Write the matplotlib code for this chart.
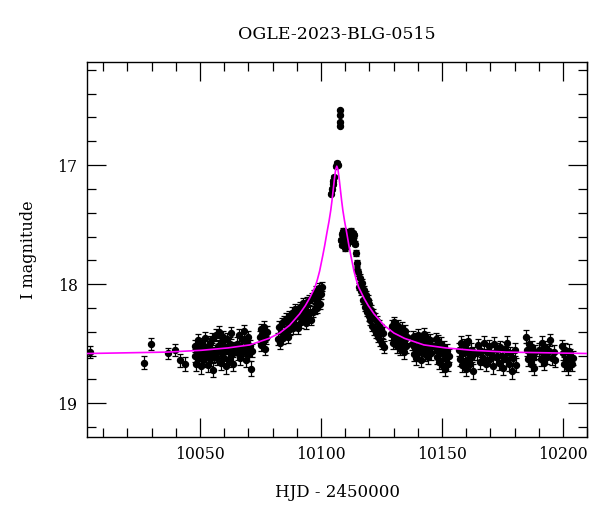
import matplotlib
matplotlib.use("Agg")
import matplotlib.pyplot as plt
from matplotlib.ticker import MultipleLocator

# ---- data: (HJD-2450000, I mag, error) ----
early = [(10004.6, 18.57, 0.050), (10026.9, 18.66, 0.056), (10029.6, 18.50, 0.052),
         (10036.9, 18.58, 0.045), (10039.8, 18.555, 0.050), (10041.8, 18.64, 0.055),
         (10043.8, 18.67, 0.055)]

base_a = [(10047.9, 18.60, 0.055), (10048.1, 18.52, 0.052), (10048.3, 18.67, 0.060),
          (10048.9, 18.57, 0.054), (10049.2, 18.47, 0.050), (10049.5, 18.62, 0.058),
          (10050.0, 18.55, 0.053), (10050.3, 18.69, 0.062), (10050.7, 18.59, 0.055),
          (10051.0, 18.50, 0.051), (10051.2, 18.64, 0.059), (10051.8, 18.56, 0.054),
          (10052.1, 18.45, 0.050), (10052.4, 18.61, 0.057), (10052.9, 18.53, 0.053),
          (10053.2, 18.68, 0.061), (10053.6, 18.58, 0.055), (10053.9, 18.49, 0.051),
          (10054.3, 18.63, 0.058), (10054.8, 18.55, 0.054), (10055.1, 18.46, 0.050),
          (10055.4, 18.72, 0.062), (10055.8, 18.60, 0.056)]

base_b = [(10056.4, 18.58, 0.055), (10056.7, 18.43, 0.051), (10057.0, 18.62, 0.058),
          (10057.4, 18.52, 0.053), (10057.8, 18.40, 0.050), (10058.1, 18.55, 0.054),
          (10058.5, 18.66, 0.060), (10058.9, 18.48, 0.052), (10059.2, 18.58, 0.056),
          (10059.6, 18.44, 0.051), (10060.0, 18.62, 0.058), (10060.3, 18.53, 0.054),
          (10060.7, 18.69, 0.062), (10061.1, 18.46, 0.052), (10061.5, 18.56, 0.055),
          (10061.9, 18.64, 0.059), (10062.2, 18.50, 0.053), (10062.6, 18.41, 0.050),
          (10063.0, 18.59, 0.056), (10063.4, 18.67, 0.060), (10063.8, 18.54, 0.054)]

base_c = [(10065.3, 18.50, 0.053), (10065.7, 18.58, 0.056), (10066.0, 18.43, 0.051),
          (10066.4, 18.62, 0.058), (10066.8, 18.53, 0.054), (10067.2, 18.46, 0.052),
          (10067.6, 18.57, 0.055), (10068.0, 18.39, 0.050), (10068.4, 18.55, 0.054),
          (10068.8, 18.64, 0.059), (10069.3, 18.49, 0.053), (10069.7, 18.44, 0.051),
          (10070.1, 18.59, 0.056), (10070.5, 18.52, 0.054), (10070.9, 18.71, 0.062),
          (10071.3, 18.56, 0.055)]

base_d = [(10074.7, 18.44, 0.050), (10075.0, 18.38, 0.048), (10075.3, 18.51, 0.054),
          (10075.7, 18.42, 0.050), (10076.1, 18.47, 0.052), (10076.5, 18.36, 0.048),
          (10076.9, 18.54, 0.055), (10077.3, 18.45, 0.051), (10077.7, 18.40, 0.050)]

rise = [(10082.2, 18.46, 0.050), (10082.5, 18.36, 0.048), (10082.9, 18.49, 0.051),
        (10083.3, 18.40, 0.049), (10083.7, 18.33, 0.047), (10084.1, 18.45, 0.050),
        (10084.5, 18.31, 0.047), (10084.9, 18.41, 0.049), (10085.3, 18.29, 0.046),
        (10085.7, 18.40, 0.048), (10086.1, 18.32, 0.047), (10086.5, 18.44, 0.050),
        (10086.9, 18.27, 0.046), (10087.3, 18.38, 0.048), (10087.7, 18.31, 0.047),
        (10088.1, 18.24, 0.045), (10088.5, 18.37, 0.048), (10088.9, 18.28, 0.046),
        (10089.3, 18.21, 0.045), (10089.7, 18.34, 0.047), (10090.1, 18.25, 0.045),
        (10090.5, 18.37, 0.048), (10090.9, 18.27, 0.046), (10091.3, 18.19, 0.044),
        (10091.7, 18.32, 0.046), (10092.1, 18.24, 0.045), (10092.5, 18.16, 0.043),
        (10092.9, 18.29, 0.045), (10093.3, 18.21, 0.044), (10093.7, 18.33, 0.046),
        (10094.1, 18.15, 0.043), (10094.5, 18.26, 0.044), (10094.9, 18.13, 0.042),
        (10095.3, 18.23, 0.044), (10095.7, 18.30, 0.045), (10096.1, 18.12, 0.042),
        (10096.5, 18.23, 0.043), (10096.9, 18.09, 0.041), (10097.3, 18.21, 0.043),
        (10097.7, 18.13, 0.042), (10098.1, 18.06, 0.041), (10098.5, 18.20, 0.043),
        (10098.9, 18.10, 0.041), (10099.3, 18.03, 0.040), (10099.7, 18.17, 0.042),
        (10100.1, 18.08, 0.041), (10100.5, 18.02, 0.040)]

peak = [(10104.1, 17.24, 0.014), (10104.4, 17.20, 0.014), (10104.8, 17.16, 0.014),
        (10105.1, 17.13, 0.013), (10105.5, 17.10, 0.013), (10106.2, 17.01, 0.012),
        (10106.5, 16.98, 0.012), (10106.8, 17.00, 0.012), (10107.8, 16.54, 0.010),
        (10107.8, 16.58, 0.010), (10107.9, 16.64, 0.010), (10107.9, 16.67, 0.010)]

shoulder = [(10108.3, 17.63, 0.020), (10108.5, 17.58, 0.019), (10108.7, 17.67, 0.021),
            (10108.9, 17.61, 0.020), (10109.1, 17.55, 0.019), (10109.3, 17.65, 0.020),
            (10109.5, 17.59, 0.019), (10109.8, 17.70, 0.021), (10110.0, 17.62, 0.020),
            (10110.3, 17.57, 0.019), (10110.6, 17.66, 0.020), (10110.9, 17.60, 0.019),
            (10111.2, 17.56, 0.019), (10111.5, 17.64, 0.020), (10111.8, 17.58, 0.019),
            (10112.1, 17.62, 0.020), (10112.4, 17.55, 0.019), (10112.7, 17.60, 0.020),
            (10113.0, 17.57, 0.019), (10113.3, 17.63, 0.020), (10113.6, 17.59, 0.020),
            (10113.9, 17.66, 0.021)]

decline = [(10114.5, 17.74, 0.024), (10114.7, 17.82, 0.025), (10114.9, 17.88, 0.026),
           (10115.4, 17.90, 0.030), (10115.8, 18.02, 0.031), (10116.2, 17.95, 0.032),
           (10116.6, 18.06, 0.033), (10117.0, 17.99, 0.034), (10117.4, 18.13, 0.035),
           (10117.6, 18.05, 0.036), (10118.0, 18.19, 0.037), (10118.4, 18.09, 0.036),
           (10118.8, 18.23, 0.039), (10119.2, 18.13, 0.038), (10119.6, 18.27, 0.040),
           (10120.0, 18.17, 0.041), (10120.4, 18.30, 0.041), (10120.8, 18.22, 0.042),
           (10121.2, 18.35, 0.043), (10121.6, 18.25, 0.043), (10122.0, 18.38, 0.044),
           (10122.4, 18.29, 0.044), (10122.8, 18.41, 0.045), (10123.2, 18.31, 0.045),
           (10123.6, 18.44, 0.046), (10124.0, 18.35, 0.046), (10124.4, 18.47, 0.047),
           (10124.8, 18.38, 0.047), (10125.2, 18.50, 0.048), (10125.6, 18.41, 0.048),
           (10126.0, 18.53, 0.050)]

tail_a = [(10129.1, 18.42, 0.050), (10129.4, 18.35, 0.048), (10129.7, 18.49, 0.052),
          (10130.0, 18.40, 0.050), (10130.3, 18.32, 0.047), (10130.6, 18.46, 0.051),
          (10130.9, 18.38, 0.049), (10131.2, 18.52, 0.054), (10131.5, 18.43, 0.051),
          (10131.8, 18.35, 0.048), (10132.1, 18.48, 0.052), (10132.4, 18.40, 0.050),
          (10132.7, 18.54, 0.055), (10133.0, 18.44, 0.051), (10133.3, 18.37, 0.049),
          (10133.6, 18.50, 0.053), (10133.9, 18.42, 0.050), (10134.2, 18.57, 0.056),
          (10134.5, 18.46, 0.052), (10134.8, 18.39, 0.050), (10135.1, 18.52, 0.054),
          (10135.4, 18.44, 0.051)]

tail_b = [(10137.4, 18.50, 0.053), (10137.8, 18.44, 0.051), (10138.2, 18.59, 0.057),
          (10138.6, 18.52, 0.054), (10139.0, 18.46, 0.052), (10139.4, 18.62, 0.058),
          (10139.8, 18.54, 0.055), (10140.2, 18.43, 0.051), (10140.6, 18.57, 0.056),
          (10141.0, 18.50, 0.053), (10141.4, 18.64, 0.059), (10141.8, 18.47, 0.052),
          (10142.2, 18.55, 0.055), (10142.6, 18.42, 0.050), (10143.0, 18.59, 0.057),
          (10143.4, 18.51, 0.054), (10143.8, 18.45, 0.052), (10144.2, 18.61, 0.058),
          (10144.6, 18.53, 0.054), (10145.0, 18.47, 0.052), (10145.4, 18.58, 0.056),
          (10145.8, 18.52, 0.054)]

tail_c = [(10146.9, 18.52, 0.054), (10147.3, 18.46, 0.052), (10147.7, 18.61, 0.058),
          (10148.1, 18.55, 0.055), (10148.5, 18.48, 0.053), (10148.9, 18.65, 0.060),
          (10149.3, 18.57, 0.056), (10149.7, 18.50, 0.054), (10150.1, 18.68, 0.061),
          (10150.5, 18.59, 0.057), (10150.9, 18.53, 0.054), (10151.3, 18.71, 0.062),
          (10151.7, 18.62, 0.058), (10152.1, 18.56, 0.055), (10152.5, 18.67, 0.060),
          (10152.9, 18.60, 0.057)]

tail_d = [(10157.1, 18.55, 0.055), (10157.5, 18.63, 0.058), (10157.9, 18.49, 0.053),
          (10158.3, 18.68, 0.061), (10158.7, 18.58, 0.056), (10159.1, 18.51, 0.054),
          (10159.5, 18.65, 0.059), (10159.9, 18.71, 0.062), (10160.3, 18.57, 0.056),
          (10160.7, 18.48, 0.053), (10161.1, 18.62, 0.058), (10161.5, 18.67, 0.060),
          (10161.9, 18.55, 0.055), (10162.3, 18.60, 0.057), (10162.7, 18.73, 0.063),
          (10163.1, 18.58, 0.056)]

tail_e = [(10164.4, 18.58, 0.056), (10165.0, 18.51, 0.054), (10165.6, 18.65, 0.059),
          (10166.2, 18.56, 0.055), (10166.8, 18.62, 0.058), (10167.4, 18.49, 0.053),
          (10168.0, 18.67, 0.060), (10168.6, 18.57, 0.056), (10169.2, 18.52, 0.054),
          (10169.8, 18.63, 0.058), (10170.4, 18.58, 0.056), (10171.0, 18.69, 0.061),
          (10171.6, 18.50, 0.054), (10172.2, 18.61, 0.057), (10172.8, 18.55, 0.055),
          (10173.4, 18.66, 0.060), (10174.0, 18.53, 0.055), (10174.6, 18.60, 0.057),
          (10175.2, 18.70, 0.062), (10175.8, 18.54, 0.055), (10176.4, 18.63, 0.058),
          (10177.0, 18.49, 0.053), (10177.6, 18.67, 0.060), (10178.2, 18.58, 0.056),
          (10178.8, 18.73, 0.063), (10179.4, 18.62, 0.058), (10180.0, 18.55, 0.055),
          (10180.6, 18.68, 0.061)]

tail_f = [(10184.8, 18.44, 0.052), (10185.2, 18.55, 0.055), (10185.6, 18.63, 0.058),
          (10186.0, 18.50, 0.053), (10186.4, 18.58, 0.056), (10186.8, 18.67, 0.060),
          (10187.2, 18.53, 0.054), (10187.6, 18.61, 0.057), (10188.0, 18.70, 0.062),
          (10188.4, 18.57, 0.056)]

tail_g = [(10190.2, 18.55, 0.055), (10190.7, 18.63, 0.058), (10191.2, 18.49, 0.053),
          (10191.7, 18.58, 0.056), (10192.2, 18.66, 0.060), (10192.7, 18.53, 0.054),
          (10193.4, 18.61, 0.057), (10194.0, 18.56, 0.055), (10194.8, 18.47, 0.052),
          (10195.5, 18.62, 0.058), (10196.2, 18.57, 0.056), (10196.8, 18.64, 0.059)]

tail_h = [(10199.6, 18.52, 0.054), (10200.0, 18.58, 0.056), (10200.5, 18.67, 0.060),
          (10201.0, 18.55, 0.055), (10201.5, 18.63, 0.059), (10202.0, 18.70, 0.062),
          (10202.5, 18.56, 0.055), (10203.0, 18.60, 0.057), (10203.5, 18.67, 0.061),
          (10204.2, 18.62, 0.058)]

# model curve
model_t = [10003.4, 10036.5, 10050.5, 10061.5, 10070.5, 10078.5, 10082.9, 10087.0,
           10091.1, 10093.5, 10095.2, 10097.5, 10098.5, 10099.4, 10100.7, 10101.5,
           10102.4, 10103.3, 10104.0, 10104.5, 10105.0, 10105.5, 10106.0, 10106.5,
           10107.0, 10107.5, 10108.0, 10108.5, 10109.0, 10109.7, 10110.6, 10111.5,
           10112.3, 10113.6, 10114.5, 10115.5, 10117.8, 10119.5, 10121.9, 10126.0,
           10130.1, 10134.5, 10142.5, 10151.5, 10162.5, 10176.5, 10210.0]
model_m = [18.582, 18.570, 18.555, 18.535, 18.510, 18.455, 18.410, 18.345,
           18.250, 18.180, 18.120, 18.025, 17.960, 17.890, 17.760, 17.675,
           17.570, 17.470, 17.380, 17.300, 17.210, 17.120, 17.040, 17.010,
           17.040, 17.120, 17.210, 17.300, 17.380, 17.470, 17.570, 17.675,
           17.760, 17.890, 17.960, 18.025, 18.120, 18.180, 18.250, 18.345,
           18.410, 18.455, 18.510, 18.535, 18.555, 18.570, 18.582]

title = "OGLE-2023-BLG-0515"
xlabel = "HJD - 2450000"
ylabel = "I magnitude"

segments = [early, base_a, base_b, base_c, base_d, rise, peak, shoulder, decline,
            tail_a, tail_b, tail_c, tail_d, tail_e, tail_f, tail_g, tail_h]
hjd = [p[0] for s in segments for p in s]
imag = [p[1] for s in segments for p in s]
ierr = [p[2] for s in segments for p in s]

plt.rcParams['font.family'] = ['DejaVu Serif']
fig = plt.figure(figsize=(6.0, 5.12), dpi=100)
ax = fig.add_axes([0.1455, 0.1471, 0.8333, 0.7312])

ax.errorbar(hjd, imag, yerr=ierr, fmt='o', ms=4.3, color='black', ecolor='black',
            elinewidth=0.9, capsize=2.5, capthick=0.9, zorder=2)
ax.plot(model_t, model_m, color='#ff00ff', lw=1.2, zorder=3)

ax.set_xlim(10003.4, 10210.0)
ax.set_ylim(19.28, 16.138)
ax.xaxis.set_major_locator(MultipleLocator(50))
ax.xaxis.set_minor_locator(MultipleLocator(10))
ax.yaxis.set_major_locator(MultipleLocator(1))
ax.yaxis.set_minor_locator(MultipleLocator(0.2))
ax.tick_params(which='both', direction='in', top=True, right=True, width=0.9,
               labelsize=11.3, color='black')
ax.tick_params(which='major', length=13.5, pad=7)
ax.tick_params(which='minor', length=6.8)
for sp in ax.spines.values():
    sp.set_linewidth(1.0)

ax.set_title(title, fontsize=12.5, pad=17)
ax.set_xlabel(xlabel, fontsize=12, labelpad=15)
ax.set_ylabel(ylabel, fontsize=11.5, labelpad=15)

fig.savefig("out.png", dpi=100, facecolor='white')
